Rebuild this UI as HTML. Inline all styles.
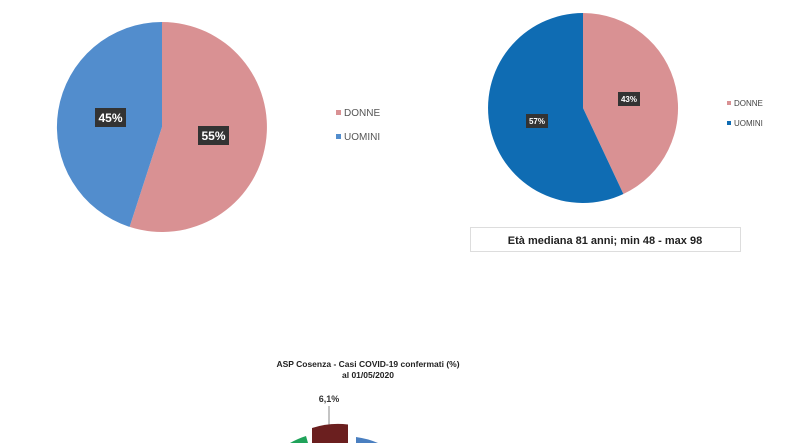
<!DOCTYPE html>
<html><head><meta charset="utf-8"><style>
html,body{margin:0;padding:0;background:#fff;width:789px;height:443px;overflow:hidden;}
body{font-family:"Liberation Sans",sans-serif;}
svg{display:block;}
</style></head><body>
<svg width="789" height="443" viewBox="0 0 789 443" xmlns="http://www.w3.org/2000/svg" font-family="Liberation Sans, sans-serif" overflow="hidden">
<path d="M162,127 L162,22 A105,105 0 1 1 129.6,226.9 Z" fill="#d99193"/>
<path d="M162,127 L129.6,226.9 A105,105 0 0 1 162,22 Z" fill="#528dcd"/>
<rect x="95" y="108" width="31" height="19" fill="#333"/>
<text x="110.5" y="122" font-size="12" font-weight="bold" fill="#fff" text-anchor="middle">45%</text>
<rect x="198" y="126" width="31" height="19" fill="#333"/>
<text x="213.5" y="140" font-size="12" font-weight="bold" fill="#fff" text-anchor="middle">55%</text>
<rect x="336" y="110" width="5" height="5" fill="#d99193"/>
<text x="344" y="116" font-size="10" fill="#555">DONNE</text>
<rect x="336" y="134" width="5" height="5" fill="#528dcd"/>
<text x="344" y="140" font-size="10" fill="#555">UOMINI</text>
<path d="M583,108 L583,13 A95,95 0 0 1 623.4,194 Z" fill="#d99193"/>
<path d="M583,108 L623.4,194 A95,95 0 1 1 583,13 Z" fill="#0f6cb3"/>
<rect x="618" y="92" width="22" height="14" fill="#333"/>
<text x="629" y="102" font-size="8" font-weight="bold" fill="#fff" text-anchor="middle">43%</text>
<rect x="526" y="114" width="22" height="14" fill="#333"/>
<text x="537" y="124" font-size="8" font-weight="bold" fill="#fff" text-anchor="middle">57%</text>
<rect x="727" y="101" width="4" height="4" fill="#d99193"/>
<text x="734" y="106" font-size="8" fill="#444">DONNE</text>
<rect x="727" y="121" width="4" height="4" fill="#0f6cb3"/>
<text x="734" y="126" font-size="8" fill="#444">UOMINI</text>
<rect x="470.5" y="227.5" width="270" height="24" fill="#fff" stroke="#ddd"/>
<text x="605" y="244" font-size="11" font-weight="bold" fill="#222" text-anchor="middle">Età mediana  81 anni; min 48 - max 98</text>
<text x="368" y="367" font-size="8.5" font-weight="bold" fill="#222" text-anchor="middle">ASP Cosenza - Casi COVID-19 confermati (%)</text>
<text x="368" y="378" font-size="8.5" font-weight="bold" fill="#222" text-anchor="middle">al 01/05/2020</text>
<text x="329" y="402" font-size="9" font-weight="bold" fill="#333" text-anchor="middle">6,1%</text>
<line x1="329" y1="406" x2="329" y2="428" stroke="#888" stroke-width="1"/>
<path d="M312,428 A85,85 0 0 1 348,424.5 L348,443 L312,443 Z" fill="#6b1f1f"/>
<path d="M356,437 A85,85 0 0 1 378,443 L356,443 Z" fill="#4a7fc0"/>
<path d="M290,443 A85,85 0 0 1 306,436 L308,443 Z" fill="#1fa35a"/>
</svg>
</body></html>
